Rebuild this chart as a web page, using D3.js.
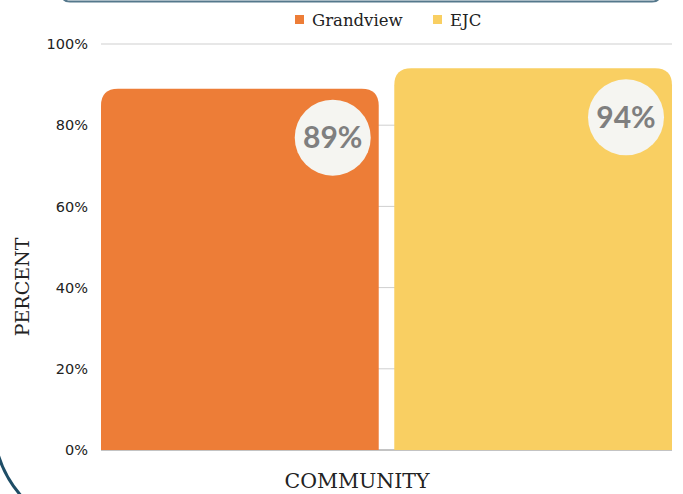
<!DOCTYPE html>
<html>
<head>
<meta charset="utf-8">
<script src="https://cdn.jsdelivr.net/npm/d3@7"></script>
<style>
  body { margin: 0; background: #fff; }
  svg { display: block; }
</style>
</head>
<body>
<div class="chart"></div>
<script>
const communities = ["Grandview", "EJC"]
const percentValues = [89, 94]
const barColors = ["#ED7D37", "#F9CF62"]
const yTicks = [0, 20, 40, 60, 80, 100]

function drawBars() {
    const dimensions = {
        width: 683,
        height: 494,
        margin: { top: 44, right: 11, bottom: 44, left: 101 }
    }
    const innerW = dimensions.width - dimensions.margin.left - dimensions.margin.right
    const innerH = dimensions.height - dimensions.margin.top - dimensions.margin.bottom

    const svg = d3.select(".chart")
        .append("svg")
        .attr("width", dimensions.width)
        .attr("height", dimensions.height)

    // decorative frame pieces from the page around the chart
    svg.append("path")
        .attr("d", "M62,-20 L62,-6 Q62,1.5 70,1.5 L652,1.5 Q660,1.5 660,-6 L660,-20")
        .attr("fill", "none")
        .attr("stroke", "#55788c")
        .attr("stroke-width", 2)
    svg.append("path")
        .attr("d", "M-2,454 Q5,478 23,498")
        .attr("fill", "none")
        .attr("stroke", "#1e4d66")
        .attr("stroke-width", 3)

    const g = svg.append("g")
        .attr("transform", `translate(${dimensions.margin.left}, ${dimensions.margin.top})`)

    const x = d3.scaleBand()
        .domain(communities)
        .range([0, innerW])
        .paddingInner(0.053)
        .paddingOuter(0)

    const y = d3.scaleLinear()
        .domain([0, 100])
        .range([innerH, 0])

    // gridlines
    g.selectAll(".grid")
        .data(yTicks)
        .join("line")
        .attr("x1", 0)
        .attr("x2", innerW)
        .attr("y1", d => y(d))
        .attr("y2", d => y(d))
        .attr("stroke", d => d === 0 ? "#888" : "#cfcfcf")
        .attr("stroke-width", 1)

    // y tick labels
    const yAxis = d3.axisLeft(y)
        .tickValues(yTicks)
        .tickSize(0)
        .tickPadding(13)
        .tickFormat(d => d + "%")
    const ya = g.append("g").call(yAxis)
    ya.select(".domain").remove()
    ya.selectAll("text")
        .attr("font-family", "'DejaVu Sans', sans-serif")
        .attr("font-size", 14.5)
        .attr("fill", "#222")

    // bars with rounded top corners
    const r = 17
    const barPath = (d, i) => {
        const x0 = x(communities[i]), x1 = x0 + x.bandwidth()
        const yt = y(d), yb = y(0)
        return `M${x0},${yb} L${x0},${yt + r} Q${x0},${yt} ${x0 + r},${yt} L${x1 - r},${yt} Q${x1},${yt} ${x1},${yt + r} L${x1},${yb} Z`
    }
    g.selectAll(".bar")
        .data(percentValues)
        .join("path")
        .attr("class", "bar")
        .attr("d", barPath)
        .attr("fill", (d, i) => barColors[i])

    // value bubbles
    const bubble = g.selectAll(".bubble")
        .data(percentValues)
        .join("g")
        .attr("transform", (d, i) => `translate(${x(communities[i]) + x.bandwidth() - 46}, ${y(d) + 49})`)
    bubble.append("circle")
        .attr("r", 38)
        .attr("fill", "#f5f5f1")
    bubble.append("text")
        .attr("text-anchor", "middle")
        .attr("dy", "0.36em")
        .attr("font-family", "Lato, 'Noto Sans', sans-serif")
        .attr("font-weight", 700)
        .attr("font-size", 30)
        .attr("fill", "#7f7f7f")
        .text(d => d + "%")

    // legend
    const legend = svg.append("g")
    const legendX = [295, 433]
    communities.forEach((c, i) => {
        legend.append("rect")
            .attr("x", legendX[i])
            .attr("y", 15)
            .attr("width", 9)
            .attr("height", 9)
            .attr("fill", barColors[i])
        legend.append("text")
            .attr("x", legendX[i] + 17)
            .attr("y", 26)
            .attr("font-family", "'DejaVu Serif', serif")
            .attr("font-size", 16.5)
            .attr("fill", "#222")
            .text(c)
    })

    // axis titles
    svg.append("text")
        .attr("x", 357)
        .attr("y", 488)
        .attr("text-anchor", "middle")
        .attr("font-family", "'DejaVu Serif', serif")
        .attr("font-size", 20.5)
        .attr("fill", "#222")
        .text("COMMUNITY")
    svg.append("text")
        .attr("transform", "translate(28.5, 287) rotate(-90)")
        .attr("text-anchor", "middle")
        .attr("font-family", "'DejaVu Serif', serif")
        .attr("font-size", 19)
        .attr("fill", "#222")
        .text("PERCENT")
}

drawBars()
</script>
</body>
</html>
